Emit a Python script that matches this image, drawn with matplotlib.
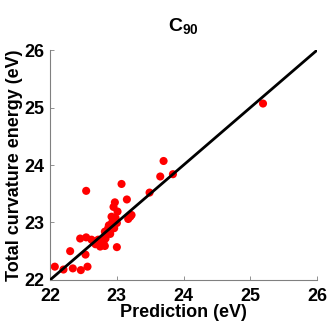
import matplotlib
matplotlib.use('Agg')
import matplotlib.pyplot as plt

# prediction vs. total curvature energy for C90 (eV)
prediction = [22.07, 22.20, 22.34, 22.46, 22.56, 22.30, 22.53, 22.45, 22.54, 22.54,
              22.65, 22.70, 22.75, 22.77, 22.82, 22.83, 22.80, 22.72, 23.00, 22.85,
              22.90, 22.88, 22.93, 22.96, 22.98, 22.95, 23.07, 23.15, 23.17, 23.20,
              23.22, 23.49, 23.65, 23.70, 23.84, 25.19, 22.97, 23.01, 22.92, 23.00,
              22.87, 22.82, 22.62, 22.68, 22.78, 22.90]
energy = [22.23, 22.18, 22.20, 22.17, 22.23, 22.50, 22.44, 22.72, 22.74, 23.55,
          22.67, 22.63, 22.58, 22.70, 22.59, 22.72, 22.66, 22.70, 22.57, 22.80,
          22.85, 22.95, 23.00, 22.90, 23.08, 23.27, 23.67, 23.40, 23.06, 23.10,
          23.13, 23.52, 23.80, 24.07, 23.84, 25.07, 23.35, 23.19, 23.10, 22.99,
          22.90, 22.84, 22.70, 22.62, 22.65, 22.80]
ticks = [22, 23, 24, 25, 26]

plt.rcParams['font.family'] = ['Liberation Sans', 'DejaVu Sans']
plt.rcParams['mathtext.fontset'] = 'custom'
plt.rcParams['mathtext.rm'] = 'Liberation Sans'
plt.rcParams['mathtext.bf'] = 'Liberation Sans:bold'

fig = plt.figure(figsize=(3.32, 3.32), dpi=100)
ax = fig.add_axes([0.151, 0.157, 0.804, 0.692])

ax.plot([22, 26], [22, 26], color='black', lw=2, zorder=3)
ax.scatter(prediction, energy, s=34, color='red', edgecolors='none', zorder=2)

ax.set_xlim(22, 26)
ax.set_ylim(22, 26)
ax.set_xticks(ticks)
ax.set_yticks(ticks)
ax.tick_params(direction='in', length=3, width=0.6, color='#808080',
               labelsize=13)
ax.tick_params(axis='x', pad=6)
ax.tick_params(axis='y', pad=4)
for lbl in ax.get_xticklabels() + ax.get_yticklabels():
    lbl.set_fontweight('bold')
for side in ['top', 'right']:
    ax.spines[side].set_visible(False)
for side in ['left', 'bottom']:
    ax.spines[side].set_color('#808080')
    ax.spines[side].set_linewidth(0.8)

ax.set_xlabel('Prediction (eV)', fontsize=13, fontweight='bold', labelpad=-1)
ax.set_ylabel('Total curvature energy (eV)', fontsize=13, fontweight='bold', labelpad=1)
ax.set_title(r'$\mathbf{C_{90}}$', fontsize=14, pad=14)

plt.savefig('out.png', dpi=100)
